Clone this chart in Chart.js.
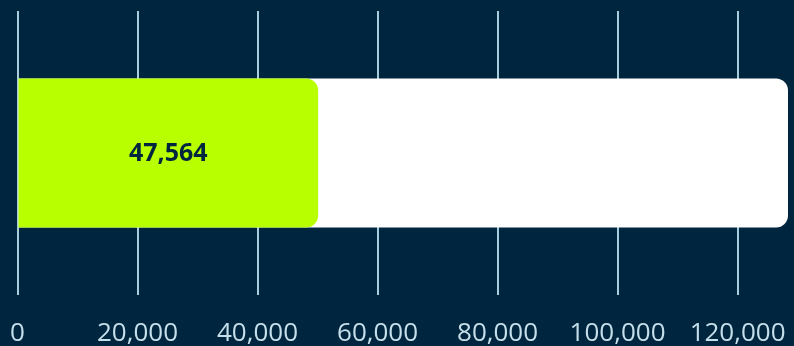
<!DOCTYPE html>
<html>
<head>
<meta charset="utf-8">
<script src="https://cdn.jsdelivr.net/npm/chart.js@4"></script>
<style>
html,body{margin:0;padding:0;background:#00263F;}
#wrap{width:794px;height:346px;position:relative;}
</style>
</head>
<body>
<div id="wrap"><canvas id="c" width="794" height="346"></canvas></div>
<script>
const categories = ["Total"];
const achievedValues = [50100];
const totalValues = [128400];
const valueLabels = ["47,564"];
const tickValues = [0, 20000, 40000, 60000, 80000, 100000, 120000];

const centerLabel = {
  id: 'centerLabel',
  afterDatasetsDraw(chart) {
    const ctx = chart.ctx;
    const meta = chart.getDatasetMeta(0);
    meta.data.forEach((bar, i) => {
      const x = (bar.x + bar.base) / 2;
      ctx.save();
      ctx.font = 'bold 25px "Open Sans", sans-serif';
      ctx.fillStyle = '#00263F';
      ctx.textAlign = 'center';
      ctx.textBaseline = 'middle';
      ctx.fillText(valueLabels[i], x, bar.y + 1);
      ctx.restore();
    });
  }
};

new Chart(document.getElementById('c'), {
  type: 'bar',
  data: {
    labels: categories,
    datasets: [
      { data: achievedValues, backgroundColor: '#B8FF00', borderRadius: 12, borderSkipped: 'start', grouped: false },
      { data: totalValues, backgroundColor: '#FFFFFF', borderRadius: 12, borderSkipped: 'start', grouped: false }
    ]
  },
  options: {
    indexAxis: 'y',
    responsive: false,
    animation: false,
    devicePixelRatio: 1,
    layout: { padding: { left: 17.5, right: 6, top: 11, bottom: 0 } },
    datasets: { bar: { categoryPercentage: 1, barPercentage: 0.5246 } },
    plugins: { legend: { display: false }, tooltip: { enabled: false } },
    scales: {
      x: {
        min: 0,
        max: totalValues[0],
        afterBuildTicks: axis => { axis.ticks = tickValues.map(v => ({ value: v })); },
        afterFit: axis => { axis.height = 51; axis.paddingLeft = 0; axis.paddingRight = 0; },
        border: { display: false },
        grid: { color: '#A9CCDD', lineWidth: 2, drawTicks: false },
        ticks: {
          padding: 23,
          maxRotation: 0,
          color: '#C5DFEA',
          font: { family: '"Open Sans", sans-serif', size: 26 },
          callback: v => v.toLocaleString('en-US')
        }
      },
      y: { display: false, grid: { display: false } }
    }
  },
  plugins: [centerLabel]
});
</script>
</body>
</html>
